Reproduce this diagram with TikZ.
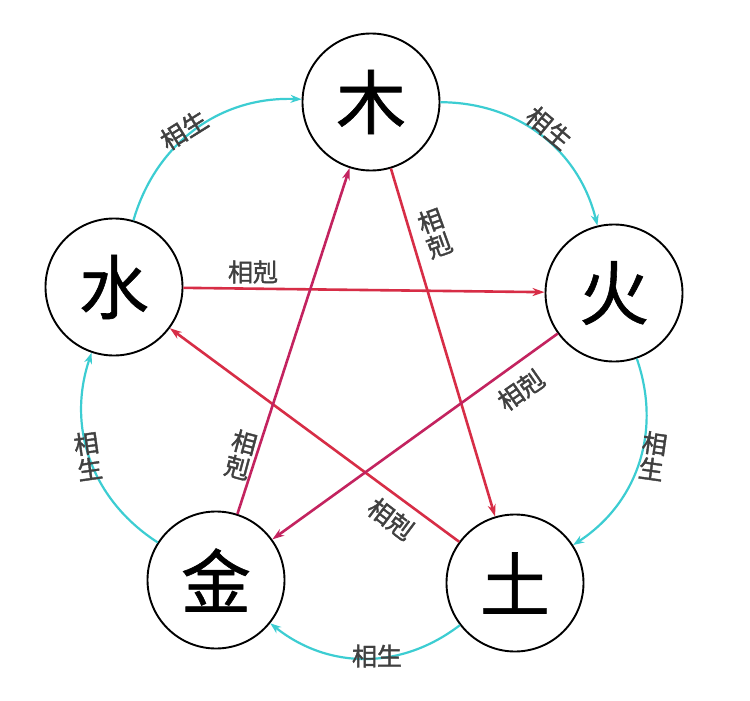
\documentclass[tikz,border=0pt]{standalone}
\usepackage{fontspec}
\newfontfamily\cjk[FakeBold=0.8]{Noto Sans CJK SC}
\newfontfamily\cjklab[FakeBold=1.6]{Noto Sans CJK SC}
\usetikzlibrary{arrows.meta}
\definecolor{shengc}{RGB}{60,205,210}
\definecolor{kered}{RGB}{215,45,70}
\definecolor{kemag}{RGB}{195,35,95}
\begin{document}
\begin{tikzpicture}[x=1pt,y=-1pt,
  elem/.style={circle,draw=black,line width=1.9pt,minimum size=137pt,inner sep=0pt,fill=white,font=\cjk\fontsize{70}{70}\selectfont},
  sheng/.style={draw=shengc,line width=2.2pt,-{Stealth[length=11pt,width=8pt]}},
  ke/.style={draw=kered,line width=2.6pt,-{Stealth[length=12pt,width=8pt]}},
  kem/.style={ke,draw=kemag},
  lab/.style={font=\cjklab\fontsize{25}{25}\selectfont,text=black!75,inner sep=0pt},
  vlab/.style={lab,align=center,font=\cjklab\fontsize{25}{26}\selectfont}]
\useasboundingbox (0,0) rectangle (750,701);
\fill[white] (0,0) rectangle (750,701);
% elements
\node[elem] (mu) at (371,102) {木};
\node[elem] (huo) at (614,293) {火};
\node[elem] (tu) at (515,583) {土};
\node[elem] (jin) at (216,580) {金};
\node[elem] (shui) at (114,287) {水};
% generating cycle
\draw[sheng] (mu) to[bend left=38] (huo);
\draw[sheng] (huo) to[bend left=38] (tu);
\draw[sheng] (tu) to[bend left=38] (jin);
\draw[sheng] (jin) to[bend left=38] (shui);
\draw[sheng] (shui) to[bend left=38] (mu);
% controlling cycle
\draw[ke] (mu) -- (tu);
\draw[ke] (tu) -- (shui);
\draw[ke] (shui) -- (huo);
\draw[kem] (huo) -- (jin);
\draw[kem] (jin) -- (mu);
% labels
\node[lab,rotate=32] (l1) at (184,130) {相生};
\node[lab,rotate=-40] (l2) at (549,128) {相生};
\node[vlab,rotate=-8] (l3) at (653,456) {相\\生};
\node[lab] (l4) at (377,656) {相生};
\node[vlab,rotate=8] (l5) at (88,456) {相\\生};
\node[lab] (k1) at (253,272) {相剋};
\node[vlab,rotate=20] (k2) at (435,233) {相\\剋};
\node[lab,rotate=35] (k3) at (521,390) {相剋};
\node[lab,rotate=-37] (k4) at (391,519) {相剋};
\node[vlab,rotate=-15] (k5) at (241,455) {相\\剋};
\end{tikzpicture}
\end{document}
